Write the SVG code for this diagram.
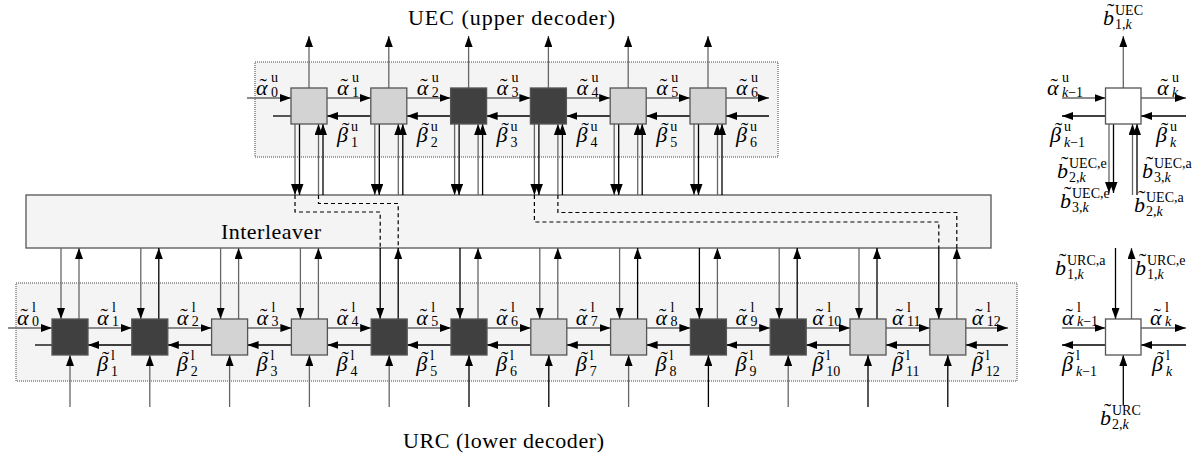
<svg xmlns="http://www.w3.org/2000/svg" width="1204" height="458" viewBox="0 0 1204 458">
<defs>
<marker id="ah" viewBox="0 0 11 8" refX="11" refY="4" markerWidth="11" markerHeight="8" markerUnits="userSpaceOnUse" orient="auto"><path d="M0,0 L11,4 L0,8 z" fill="#000"/></marker>
</defs>
<style>
.cont{fill:#f4f4f4;stroke:#444;stroke-width:1;stroke-dasharray:1 1}
.il{fill:#f4f4f4;stroke:#555;stroke-width:1.3}
.lt{fill:#d3d3d3;stroke:#555;stroke-width:1.3}
.dk{fill:#404040;stroke:#555;stroke-width:1.3}
.wh{fill:#fff;stroke:#555;stroke-width:1.3}
.g{stroke:#666;stroke-width:1.3;fill:none}
.k{stroke:#000;stroke-width:1.3;fill:none}
.ar{marker-end:url(#ah)}
.ds{stroke:#000;stroke-width:1.2;fill:none;stroke-dasharray:4 3}
.t{font-family:"Liberation Serif",serif;font-size:22px;fill:#000}
.m{font-family:"Liberation Serif",serif;font-size:22px;font-style:italic;fill:#000}
.tl{font-style:normal}
.s{font-size:14px;font-style:normal}
.i{font-style:italic}
</style>

<g id="containers">
<rect id="uec-box" class="cont" x="255" y="62" width="523" height="95"/>
<rect id="urc-box" class="cont" x="16" y="283" width="1001" height="98"/>
</g>

<g id="interleaver">
<rect class="il" x="26" y="195" width="965" height="53"/>
<text class="t" x="221" y="239" textLength="100">Interleaver</text>
</g>

<g id="connectors">
<path class="g ar" d="M247,98 H291"/>
<path class="g ar" d="M327,98 H370.8"/>
<path class="g ar" d="M406.8,98 H450.6"/>
<path class="g ar" d="M486.6,98 H530.4"/>
<path class="g ar" d="M566.4,98 H610.2"/>
<path class="g ar" d="M646.2,98 H690"/>
<path class="g ar" d="M726,98 H769"/>
<path class="k ar" d="M769,116 H726"/>
<path class="k ar" d="M690,116 H646.2"/>
<path class="k ar" d="M610.2,116 H566.4"/>
<path class="k ar" d="M530.4,116 H486.6"/>
<path class="k ar" d="M450.6,116 H406.8"/>
<path class="k ar" d="M370.8,116 H327"/>
<path class="k" d="M291,116 H273"/>
<path class="g ar" d="M309,88 V36"/>
<path class="g ar" d="M388.8,88 V36"/>
<path class="g ar" d="M468.6,88 V36"/>
<path class="g ar" d="M548.4,88 V36"/>
<path class="g ar" d="M628.2,88 V36"/>
<path class="g ar" d="M708,88 V36"/>
<path class="g ar" d="M295,124 V195"/><path class="k ar" d="M299.5,124 V195"/>
<path class="g ar" d="M374.8,124 V195"/><path class="k ar" d="M379.3,124 V195"/>
<path class="g ar" d="M454.6,124 V195"/><path class="k ar" d="M459.1,124 V195"/>
<path class="g ar" d="M534.4,124 V195"/><path class="k ar" d="M538.9,124 V195"/>
<path class="g ar" d="M614.2,124 V195"/><path class="k ar" d="M618.7,124 V195"/>
<path class="g ar" d="M694,124 V195"/><path class="k ar" d="M698.5,124 V195"/>
<path class="g ar" d="M318.5,195 V124"/><path class="k ar" d="M323,195 V124"/>
<path class="g ar" d="M398.3,195 V124"/><path class="k ar" d="M402.8,195 V124"/>
<path class="g ar" d="M478.1,195 V124"/><path class="k ar" d="M482.6,195 V124"/>
<path class="g ar" d="M557.9,195 V124"/><path class="k ar" d="M562.4,195 V124"/>
<path class="g ar" d="M637.7,195 V124"/><path class="k ar" d="M642.2,195 V124"/>
<path class="g ar" d="M717.5,195 V124"/><path class="k ar" d="M722,195 V124"/>
<path class="ds" d="M295,195 V212 H380.2 V248"/>
<path class="ds" d="M318.5,195 V203.5 H398.2 V248"/>
<path class="ds" d="M534.4,195 V222 H938.8 V248"/>
<path class="ds" d="M557.9,195 V212.5 H956.8 V248"/>
<path class="g ar" d="M8,328 H52"/>
<path class="g ar" d="M88,328 H131.8"/>
<path class="g ar" d="M167.8,328 H211.6"/>
<path class="g ar" d="M247.6,328 H291.4"/>
<path class="g ar" d="M327.4,328 H371.2"/>
<path class="g ar" d="M407.2,328 H451"/>
<path class="g ar" d="M487,328 H530.8"/>
<path class="g ar" d="M566.8,328 H610.6"/>
<path class="g ar" d="M646.6,328 H690.4"/>
<path class="g ar" d="M726.4,328 H770.2"/>
<path class="g ar" d="M806.2,328 H850"/>
<path class="g ar" d="M886,328 H929.8"/>
<path class="g ar" d="M965.8,328 H1008"/>
<path class="k ar" d="M1008,345 H965.8"/>
<path class="k ar" d="M929.8,345 H886"/>
<path class="k ar" d="M850,345 H806.2"/>
<path class="k ar" d="M770.2,345 H726.4"/>
<path class="k ar" d="M690.4,345 H646.6"/>
<path class="k ar" d="M610.6,345 H566.8"/>
<path class="k ar" d="M530.8,345 H487"/>
<path class="k ar" d="M451,345 H407.2"/>
<path class="k ar" d="M371.2,345 H327.4"/>
<path class="k ar" d="M291.4,345 H247.6"/>
<path class="k ar" d="M211.6,345 H167.8"/>
<path class="k ar" d="M131.8,345 H88"/>
<path class="k" d="M52,345 H35"/>
<path class="g ar" d="M61,248 V319"/>
<path class="g ar" d="M140.8,248 V319"/>
<path class="g ar" d="M220.6,248 V319"/>
<path class="g ar" d="M300.4,248 V319"/>
<path class="k ar" d="M380.2,248 V319"/>
<path class="k ar" d="M460,248 V319"/>
<path class="g ar" d="M539.8,248 V319"/>
<path class="g ar" d="M619.6,248 V319"/>
<path class="k ar" d="M699.4,248 V319"/>
<path class="g ar" d="M779.2,248 V319"/>
<path class="g ar" d="M859,248 V319"/>
<path class="k ar" d="M938.8,248 V319"/>
<path class="g ar" d="M79,319 V248"/>
<path class="k ar" d="M158.8,319 V248"/>
<path class="g ar" d="M238.6,319 V248"/>
<path class="g ar" d="M318.4,319 V248"/>
<path class="k ar" d="M398.2,319 V248"/>
<path class="g ar" d="M478,319 V248"/>
<path class="g ar" d="M557.8,319 V248"/>
<path class="k ar" d="M637.6,319 V248"/>
<path class="g ar" d="M717.4,319 V248"/>
<path class="k ar" d="M797.2,319 V248"/>
<path class="k ar" d="M877,319 V248"/>
<path class="g ar" d="M956.8,319 V248"/>
<path class="g ar" d="M70,407 V355"/>
<path class="g ar" d="M149.8,407 V355"/>
<path class="g ar" d="M229.6,407 V355"/>
<path class="g ar" d="M309.4,407 V355"/>
<path class="g ar" d="M389.2,407 V355"/>
<path class="k ar" d="M469,407 V355"/>
<path class="k ar" d="M548.8,407 V355"/>
<path class="g ar" d="M628.6,407 V355"/>
<path class="k ar" d="M708.4,407 V355"/>
<path class="g ar" d="M788.2,407 V355"/>
<path class="k ar" d="M868,407 V355"/>
<path class="k ar" d="M947.8,407 V355"/>
<path class="g ar" d="M1123.3,88 V36"/>
<path class="g ar" d="M1062,98 H1105.5"/>
<path class="g ar" d="M1141,98 H1186"/>
<path class="k ar" d="M1186,116 H1141"/>
<path class="k ar" d="M1105.5,116 H1062"/>
<path class="g ar" d="M1109,124 V193"/><path class="k ar" d="M1113.5,124 V193"/>
<path class="g ar" d="M1132.5,195 V124"/><path class="k ar" d="M1137,195 V124"/>
<path class="k ar" d="M1115.5,248 V319"/>
<path class="g ar" d="M1131.5,319 V248"/>
<path class="g ar" d="M1062,328 H1105.5"/>
<path class="g ar" d="M1141,328 H1186"/>
<path class="k ar" d="M1186,345 H1141"/>
<path class="k ar" d="M1105.5,345 H1062"/>
<path class="k ar" d="M1123.3,405 V355"/>
</g>

<g id="uec-nodes">
<rect id="u1" class="lt" x="291" y="88" width="36" height="36"/>
<rect id="u2" class="lt" x="370.8" y="88" width="36" height="36"/>
<rect id="u3" class="dk" x="450.6" y="88" width="36" height="36"/>
<rect id="u4" class="dk" x="530.4" y="88" width="36" height="36"/>
<rect id="u5" class="lt" x="610.2" y="88" width="36" height="36"/>
<rect id="u6" class="lt" x="690" y="88" width="36" height="36"/>
</g>

<g id="urc-nodes">
<rect id="l1" class="dk" x="52" y="319" width="36" height="36"/>
<rect id="l2" class="dk" x="131.8" y="319" width="36" height="36"/>
<rect id="l3" class="lt" x="211.6" y="319" width="36" height="36"/>
<rect id="l4" class="lt" x="291.4" y="319" width="36" height="36"/>
<rect id="l5" class="dk" x="371.2" y="319" width="36" height="36"/>
<rect id="l6" class="dk" x="451" y="319" width="36" height="36"/>
<rect id="l7" class="lt" x="530.8" y="319" width="36" height="36"/>
<rect id="l8" class="lt" x="610.6" y="319" width="36" height="36"/>
<rect id="l9" class="dk" x="690.4" y="319" width="36" height="36"/>
<rect id="l10" class="dk" x="770.2" y="319" width="36" height="36"/>
<rect id="l11" class="lt" x="850" y="319" width="36" height="36"/>
<rect id="l12" class="lt" x="929.8" y="319" width="36" height="36"/>
</g>

<g id="legend-uec">
<rect class="wh" x="1105.5" y="88" width="35.5" height="36"/>
</g>
<g id="legend-urc">
<rect class="wh" x="1105.5" y="319" width="35.5" height="36"/>
</g>

<g id="titles">
<text class="t" x="408" y="25" textLength="207">UEC (upper decoder)</text>
<text class="t" x="403" y="448" textLength="201">URC (lower decoder)</text>
</g>

<g id="labels-upper">
<text class="m" x="256" y="95">α<tspan class="tl" x="259.5" y="93">˜</tspan><tspan class="s" x="271" y="82">u</tspan><tspan class="s" x="271" y="96.5">0</tspan></text>
<text class="m" x="337" y="95">α<tspan class="tl" x="340.5" y="93">˜</tspan><tspan class="s" x="352" y="82">u</tspan><tspan class="s" x="352" y="96.5">1</tspan></text>
<text class="m" x="416.8" y="95">α<tspan class="tl" x="420.3" y="93">˜</tspan><tspan class="s" x="431.8" y="82">u</tspan><tspan class="s" x="431.8" y="96.5">2</tspan></text>
<text class="m" x="496.6" y="95">α<tspan class="tl" x="500.1" y="93">˜</tspan><tspan class="s" x="511.6" y="82">u</tspan><tspan class="s" x="511.6" y="96.5">3</tspan></text>
<text class="m" x="576.4" y="95">α<tspan class="tl" x="579.9" y="93">˜</tspan><tspan class="s" x="591.4" y="82">u</tspan><tspan class="s" x="591.4" y="96.5">4</tspan></text>
<text class="m" x="656.2" y="95">α<tspan class="tl" x="659.7" y="93">˜</tspan><tspan class="s" x="671.2" y="82">u</tspan><tspan class="s" x="671.2" y="96.5">5</tspan></text>
<text class="m" x="736" y="95">α<tspan class="tl" x="739.5" y="93">˜</tspan><tspan class="s" x="751" y="82">u</tspan><tspan class="s" x="751" y="96.5">6</tspan></text>
<text class="m" x="337" y="142">β<tspan class="tl" x="342" y="136.5">˜</tspan><tspan class="s" x="351" y="131">u</tspan><tspan class="s" x="351" y="146.5">1</tspan></text>
<text class="m" x="416.8" y="142">β<tspan class="tl" x="421.8" y="136.5">˜</tspan><tspan class="s" x="430.8" y="131">u</tspan><tspan class="s" x="430.8" y="146.5">2</tspan></text>
<text class="m" x="496.6" y="142">β<tspan class="tl" x="501.6" y="136.5">˜</tspan><tspan class="s" x="510.6" y="131">u</tspan><tspan class="s" x="510.6" y="146.5">3</tspan></text>
<text class="m" x="576.4" y="142">β<tspan class="tl" x="581.4" y="136.5">˜</tspan><tspan class="s" x="590.4" y="131">u</tspan><tspan class="s" x="590.4" y="146.5">4</tspan></text>
<text class="m" x="656.2" y="142">β<tspan class="tl" x="661.2" y="136.5">˜</tspan><tspan class="s" x="670.2" y="131">u</tspan><tspan class="s" x="670.2" y="146.5">5</tspan></text>
<text class="m" x="736" y="142">β<tspan class="tl" x="741" y="136.5">˜</tspan><tspan class="s" x="750" y="131">u</tspan><tspan class="s" x="750" y="146.5">6</tspan></text>
</g>

<g id="labels-lower">
<text class="m" x="17" y="324.5">α<tspan class="tl" x="20.5" y="322.5">˜</tspan><tspan class="s" x="32" y="312">l</tspan><tspan class="s" x="32" y="326">0</tspan></text>
<text class="m" x="97" y="324.5">α<tspan class="tl" x="100.5" y="322.5">˜</tspan><tspan class="s" x="112" y="312">l</tspan><tspan class="s" x="112" y="326">1</tspan></text>
<text class="m" x="176.8" y="324.5">α<tspan class="tl" x="180.3" y="322.5">˜</tspan><tspan class="s" x="191.8" y="312">l</tspan><tspan class="s" x="191.8" y="326">2</tspan></text>
<text class="m" x="256.6" y="324.5">α<tspan class="tl" x="260.1" y="322.5">˜</tspan><tspan class="s" x="271.6" y="312">l</tspan><tspan class="s" x="271.6" y="326">3</tspan></text>
<text class="m" x="336.4" y="324.5">α<tspan class="tl" x="339.9" y="322.5">˜</tspan><tspan class="s" x="351.4" y="312">l</tspan><tspan class="s" x="351.4" y="326">4</tspan></text>
<text class="m" x="416.2" y="324.5">α<tspan class="tl" x="419.7" y="322.5">˜</tspan><tspan class="s" x="431.2" y="312">l</tspan><tspan class="s" x="431.2" y="326">5</tspan></text>
<text class="m" x="496" y="324.5">α<tspan class="tl" x="499.5" y="322.5">˜</tspan><tspan class="s" x="511" y="312">l</tspan><tspan class="s" x="511" y="326">6</tspan></text>
<text class="m" x="575.8" y="324.5">α<tspan class="tl" x="579.3" y="322.5">˜</tspan><tspan class="s" x="590.8" y="312">l</tspan><tspan class="s" x="590.8" y="326">7</tspan></text>
<text class="m" x="655.6" y="324.5">α<tspan class="tl" x="659.1" y="322.5">˜</tspan><tspan class="s" x="670.6" y="312">l</tspan><tspan class="s" x="670.6" y="326">8</tspan></text>
<text class="m" x="735.4" y="324.5">α<tspan class="tl" x="738.9" y="322.5">˜</tspan><tspan class="s" x="750.4" y="312">l</tspan><tspan class="s" x="750.4" y="326">9</tspan></text>
<text class="m" x="812.2" y="324.5">α<tspan class="tl" x="815.7" y="322.5">˜</tspan><tspan class="s" x="827.2" y="312">l</tspan><tspan class="s" x="827.2" y="326">10</tspan></text>
<text class="m" x="892" y="324.5">α<tspan class="tl" x="895.5" y="322.5">˜</tspan><tspan class="s" x="907" y="312">l</tspan><tspan class="s" x="907" y="326">11</tspan></text>
<text class="m" x="971.8" y="324.5">α<tspan class="tl" x="975.3" y="322.5">˜</tspan><tspan class="s" x="986.8" y="312">l</tspan><tspan class="s" x="986.8" y="326">12</tspan></text>
<text class="m" x="97" y="371">β<tspan class="tl" x="102" y="365.5">˜</tspan><tspan class="s" x="111" y="360">l</tspan><tspan class="s" x="111" y="376">1</tspan></text>
<text class="m" x="176.8" y="371">β<tspan class="tl" x="181.8" y="365.5">˜</tspan><tspan class="s" x="190.8" y="360">l</tspan><tspan class="s" x="190.8" y="376">2</tspan></text>
<text class="m" x="256.6" y="371">β<tspan class="tl" x="261.6" y="365.5">˜</tspan><tspan class="s" x="270.6" y="360">l</tspan><tspan class="s" x="270.6" y="376">3</tspan></text>
<text class="m" x="336.4" y="371">β<tspan class="tl" x="341.4" y="365.5">˜</tspan><tspan class="s" x="350.4" y="360">l</tspan><tspan class="s" x="350.4" y="376">4</tspan></text>
<text class="m" x="416.2" y="371">β<tspan class="tl" x="421.2" y="365.5">˜</tspan><tspan class="s" x="430.2" y="360">l</tspan><tspan class="s" x="430.2" y="376">5</tspan></text>
<text class="m" x="496" y="371">β<tspan class="tl" x="501" y="365.5">˜</tspan><tspan class="s" x="510" y="360">l</tspan><tspan class="s" x="510" y="376">6</tspan></text>
<text class="m" x="575.8" y="371">β<tspan class="tl" x="580.8" y="365.5">˜</tspan><tspan class="s" x="589.8" y="360">l</tspan><tspan class="s" x="589.8" y="376">7</tspan></text>
<text class="m" x="655.6" y="371">β<tspan class="tl" x="660.6" y="365.5">˜</tspan><tspan class="s" x="669.6" y="360">l</tspan><tspan class="s" x="669.6" y="376">8</tspan></text>
<text class="m" x="735.4" y="371">β<tspan class="tl" x="740.4" y="365.5">˜</tspan><tspan class="s" x="749.4" y="360">l</tspan><tspan class="s" x="749.4" y="376">9</tspan></text>
<text class="m" x="812.2" y="371">β<tspan class="tl" x="817.2" y="365.5">˜</tspan><tspan class="s" x="826.2" y="360">l</tspan><tspan class="s" x="826.2" y="376">10</tspan></text>
<text class="m" x="892" y="371">β<tspan class="tl" x="897" y="365.5">˜</tspan><tspan class="s" x="906" y="360">l</tspan><tspan class="s" x="906" y="376">11</tspan></text>
<text class="m" x="971.8" y="371">β<tspan class="tl" x="976.8" y="365.5">˜</tspan><tspan class="s" x="985.8" y="360">l</tspan><tspan class="s" x="985.8" y="376">12</tspan></text>
</g>

<g id="labels-legend">
<text class="m" x="1103" y="25">b<tspan class="tl" x="1107" y="18">˜</tspan><tspan class="s" x="1115" y="15">UEC</tspan><tspan class="s" x="1115" y="29">1,<tspan class="i">k</tspan></tspan></text>
<text class="m" x="1047" y="95">α<tspan class="tl" x="1050.5" y="93">˜</tspan><tspan class="s" x="1062" y="82">u</tspan><tspan class="s" x="1062" y="96.5"><tspan class="i">k</tspan>−1</tspan></text>
<text class="m" x="1157" y="95">α<tspan class="tl" x="1160.5" y="93">˜</tspan><tspan class="s" x="1172" y="82">u</tspan><tspan class="s i" x="1172" y="96.5">k</tspan></text>
<text class="m" x="1050" y="142">β<tspan class="tl" x="1055" y="136.5">˜</tspan><tspan class="s" x="1064" y="131">u</tspan><tspan class="s" x="1064" y="146.5"><tspan class="i">k</tspan>−1</tspan></text>
<text class="m" x="1156" y="142">β<tspan class="tl" x="1161" y="136.5">˜</tspan><tspan class="s" x="1170" y="131">u</tspan><tspan class="s i" x="1170" y="146.5">k</tspan></text>
<text class="m" x="1057" y="178">b<tspan class="tl" x="1061" y="171">˜</tspan><tspan class="s" x="1069" y="168">UEC,e</tspan><tspan class="s" x="1069" y="182">2,<tspan class="i">k</tspan></tspan></text>
<text class="m" x="1060" y="208">b<tspan class="tl" x="1064" y="201">˜</tspan><tspan class="s" x="1072" y="198">UEC,e</tspan><tspan class="s" x="1072" y="212">3,<tspan class="i">k</tspan></tspan></text>
<text class="m" x="1142" y="178">b<tspan class="tl" x="1146" y="171">˜</tspan><tspan class="s" x="1154" y="168">UEC,a</tspan><tspan class="s" x="1154" y="182">3,<tspan class="i">k</tspan></tspan></text>
<text class="m" x="1134" y="212">b<tspan class="tl" x="1138" y="205">˜</tspan><tspan class="s" x="1146" y="202">UEC,a</tspan><tspan class="s" x="1146" y="216">2,<tspan class="i">k</tspan></tspan></text>
<text class="m" x="1055" y="275">b<tspan class="tl" x="1059" y="268">˜</tspan><tspan class="s" x="1067" y="265">URC,a</tspan><tspan class="s" x="1067" y="279">1,<tspan class="i">k</tspan></tspan></text>
<text class="m" x="1135" y="275">b<tspan class="tl" x="1139" y="268">˜</tspan><tspan class="s" x="1147" y="265">URC,e</tspan><tspan class="s" x="1147" y="279">1,<tspan class="i">k</tspan></tspan></text>
<text class="m" x="1062" y="324.5">α<tspan class="tl" x="1065.5" y="322.5">˜</tspan><tspan class="s" x="1077" y="312">l</tspan><tspan class="s" x="1077" y="326"><tspan class="i">k</tspan>−1</tspan></text>
<text class="m" x="1150" y="324.5">α<tspan class="tl" x="1153.5" y="322.5">˜</tspan><tspan class="s" x="1165" y="312">l</tspan><tspan class="s i" x="1165" y="326">k</tspan></text>
<text class="m" x="1062" y="371">β<tspan class="tl" x="1067" y="365.5">˜</tspan><tspan class="s" x="1076" y="360">l</tspan><tspan class="s" x="1076" y="376"><tspan class="i">k</tspan>−1</tspan></text>
<text class="m" x="1152" y="371">β<tspan class="tl" x="1157" y="365.5">˜</tspan><tspan class="s" x="1166" y="360">l</tspan><tspan class="s i" x="1166" y="376">k</tspan></text>
<text class="m" x="1100" y="425">b<tspan class="tl" x="1104" y="418">˜</tspan><tspan class="s" x="1112" y="415">URC</tspan><tspan class="s" x="1112" y="429">2,<tspan class="i">k</tspan></tspan></text>
</g>
</svg>
